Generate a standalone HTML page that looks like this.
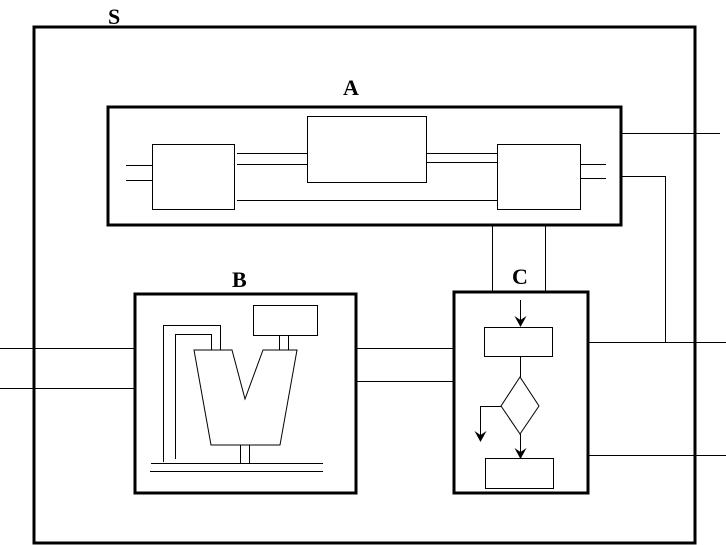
<!DOCTYPE html>
<html><head><style>body{margin:0;background:#fff}svg{display:block}</style></head><body>
<svg width="726" height="545" xmlns="http://www.w3.org/2000/svg" font-family="Liberation Serif, serif" font-weight="bold" font-size="22" shape-rendering="crispEdges">
<g fill="none" stroke="#000">
<rect x="34" y="27" width="661" height="516" stroke-width="3"/>
<rect x="108" y="107" width="513" height="118" stroke-width="3"/>
<rect x="135" y="294" width="221" height="199" stroke-width="3"/>
<rect x="454" y="292" width="134" height="201" stroke-width="3"/>
<g stroke-width="1">
<rect x="152.5" y="144.5" width="82" height="65"/>
<rect x="307.5" y="116.5" width="119" height="66"/>
<rect x="497.5" y="144.5" width="83" height="65"/>
<path d="M126 165.5H152M126 180.5H152M237 153.5H307M237 164.5H307M426 153.5H497M426 162.5H497M237 200.5H497M580 164.5H606M580 178.5H606"/>
<path d="M621 133.5H720M621 176.5H665.5V342M492.5 225V291M545.5 225V291"/>
<path d="M588 342.5H726M588 455.5H726M356 348.5H453M356 381.5H453M0 348.5H134M0 388.5H134"/>
<rect x="484.5" y="327.5" width="68" height="29"/>
<rect x="485.5" y="458.5" width="68" height="30"/>
<path d="M520.5 300V325M520.5 356V377" />
<path d="M520 377L539 406L520 434L501 406Z" shape-rendering="auto"/>
<path d="M520.5 434V457M501 406.5H480.5V440"/>
<rect x="253.5" y="305.5" width="64" height="30"/>
<path d="M279.5 335V350M288.5 335V350"/>
<path d="M194 350H232L245 399L263 350H297L280 445H211Z" shape-rendering="auto"/>
<path d="M163.5 462V325.5H220.5V350M175.5 459V334.5H211.5V350M240.5 445V464M249.5 445V464M151 463.5H323M150 471.5H323"/>
</g></g>
<g fill="#000" shape-rendering="auto">
<path d="M520.5 327L514.5 316L520.5 320L526.5 316Z"/>
<path d="M520.5 459L514.5 448L520.5 452L526.5 448Z"/>
<path d="M480.5 442L474.5 431L480.5 435L486.5 431Z"/>
</g>
<text x="108" y="24">S</text>
<text x="343" y="95">A</text>
<text x="232" y="287">B</text>
<text x="512" y="284">C</text>
</svg>
</body></html>
